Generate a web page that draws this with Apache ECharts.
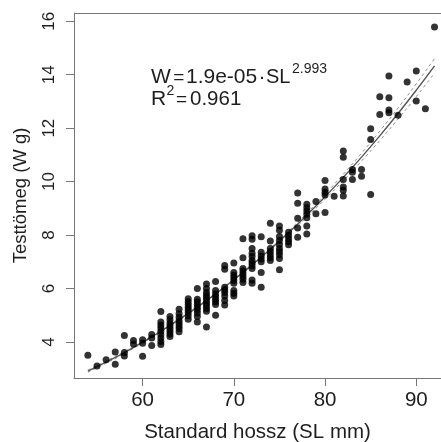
<!DOCTYPE html>
<html><head><meta charset="utf-8">
<script src="https://cdn.jsdelivr.net/npm/echarts@6/dist/echarts.min.js"></script>
<style>html,body{margin:0;padding:0;background:#fff}#c{width:441px;height:442px}</style>
</head><body><div id="c"></div>
<script>
// ---- data ----
const slColumns = [54,55,56,57,58,59,60,61,62,63,64,65,66,67,68,69,70,71,72,73,74,75,76,77,78,79,80,81,82,83,84,85,86,87,88,89,90,91,92];
const weightColumns = [
  [3.5],[3.1],[3.33],[3.62,3.16],[4.24,3.6,3.47],[4.05,3.92],[4.08,3.95,3.46],[4.28,4.15,3.87],
  [5.14,4.75,4.63,4.52,4.4,4.28,4.15,4.02,3.9],
  [4.95,4.83,4.7,4.6,4.5,4.4,4.3,4.2],
  [5.22,5.05,4.92,4.8,4.7,4.6,4.5,4.38],
  [5.62,5.5,5.4,5.3,5.2,5.1,4.98,4.85],
  [6.0,5.6,5.5,5.4,5.3,5.2,5.08,4.95,4.75],
  [6.17,6.0,5.85,5.75,5.65,5.55,5.45,5.35,5.25,5.15,4.56],
  [6.26,5.92,5.8,5.7,5.6,5.5,5.4,5.0],
  [6.86,6.72,6.05,5.95,5.85,5.72,5.55,5.38],
  [6.95,6.6,6.5,6.4,6.3,6.2,5.92,5.82,5.72],
  [7.86,7.15,6.75,6.65,6.55,6.45,6.35,6.22],
  [7.97,7.84,7.5,7.32,7.2,7.05,6.95,6.85,6.75,6.32,6.2],
  [7.94,7.36,7.22,7.1,7.0,6.6,6.05],
  [8.44,7.78,7.5,7.38,7.26,7.15,7.05],
  [8.34,8.18,7.95,7.8,7.65,7.5,7.38,7.26,7.12,6.7],
  [8.1,7.98,7.86,7.75,7.64],
  [9.57,9.19,8.63,8.26,7.92],
  [9.15,9.02,8.9,8.78,8.65,8.34,8.04],
  [9.26,8.8],
  [10.04,9.72,9.6,9.5,8.84],
  [9.45],
  [11.15,10.91,10.08,9.8,9.68,9.46],
  [10.45,10.35,10.08],
  [10.45,10.2],
  [11.98,11.58,9.52],
  [13.18,12.51],
  [13.95,13.14,12.68,12.58],
  [12.48],[13.73],[14.14,13.02],[12.73],[15.79]
];
const fitSL    = [54,56,58,60,62,64,66,68,70,72,74,76,78,80,82,84,86,88,90,92];
const fitW     = [2.909,3.244,3.603,3.988,4.399,4.838,5.305,5.800,6.326,6.883,7.471,8.091,8.746,9.434,10.158,10.917,11.714,12.548,13.421,14.334];
const upperW   = [2.951,3.284,3.639,4.019,4.425,4.862,5.327,5.820,6.346,6.908,7.506,8.146,8.821,9.529,10.278,11.062,11.889,12.753,13.661,14.604];
const lowerW   = [2.867,3.204,3.567,3.957,4.373,4.814,5.283,5.780,6.306,6.858,7.436,8.036,8.671,9.339,10.038,10.772,11.539,12.343,13.181,14.064];
const xTicks = [60,70,80,90];
const yTicks = [4,6,8,10,12,14,16];
const xLabel = 'Standard hossz (SL mm)';
const yLabel = 'Testtömeg (W g)';

// ---- build ----
const pts = [];
slColumns.forEach((sl,i)=>weightColumns[i].forEach(w=>pts.push([sl,w])));
const pair = (xs,ys)=>xs.map((x,i)=>[x,ys[i]]);
const FF = '"Liberation Sans", Arial, sans-serif';
const TXT = '#1e1e1e';
const GRAY = '#777';
const XMIN = 52.48, XMAX = 92.71, YMIN = 2.65, YMAX = 16.31;

const chart = echarts.init(document.getElementById('c'), null, {renderer:'canvas'});
function txt(s, x, y, size, opts){
  opts = opts || {};
  const al = opts.align || 'left';
  return {type:'text', x:x, y:y, rotation:opts.rotation||0, silent:true, z:100,
    style:{text:s, fill:TXT, font:size+'px '+FF, textAlign:al, textVerticalAlign:'middle', align:al, verticalAlign:'middle'}};
}
chart.setOption({
  animation:false,
  backgroundColor:'#fff',
  grid:{left:74, top:13, right:0, bottom:64, show:false, containLabel:false, outerBoundsMode:'none'},
  xAxis:{type:'value', min:XMIN, max:XMAX,
    axisLine:{show:true, onZero:false, lineStyle:{color:GRAY, width:1}}, splitLine:{show:false},
    axisTick:{show:true, length:8, lineStyle:{color:GRAY}, customValues:xTicks},
    axisLabel:{customValues:xTicks, fontSize:20.5, color:TXT, fontFamily:FF, margin:12},
    name:xLabel, nameLocation:'middle', nameGap:44,
    nameTextStyle:{fontSize:20.5, color:TXT, fontFamily:FF}},
  yAxis:{type:'value', min:YMIN, max:YMAX,
    axisLine:{show:true, onZero:false, lineStyle:{color:GRAY, width:1}}, splitLine:{show:false},
    axisTick:{show:true, length:8, lineStyle:{color:GRAY}, customValues:yTicks},
    axisLabel:{show:false}},
  series:[
    {type:'line', data:pair(fitSL,upperW), smooth:true, showSymbol:false, silent:true,
      lineStyle:{color:'#8f8f8f', width:1, type:[3,3]}},
    {type:'line', data:pair(fitSL,lowerW), smooth:true, showSymbol:false, silent:true,
      lineStyle:{color:'#8f8f8f', width:1, type:[3,3]}},
    {type:'line', data:pair(fitSL,fitW), smooth:true, showSymbol:false, silent:true,
      lineStyle:{color:'#555', width:1.4}},
    {type:'scatter', data:pts, symbol:'circle', symbolSize:7, silent:true,
      itemStyle:{color:'#000'}, z:5}
  ]
});
// axis-derived positions for rotated y labels, title and top frame line
const g = [];
const topLeft = chart.convertToPixel({gridIndex:0}, [XMIN, YMAX]);
const botLeft = chart.convertToPixel({gridIndex:0}, [XMIN, YMIN]);
g.push({type:'line', silent:true, z:50, shape:{x1:topLeft[0], y1:topLeft[1]+0.5, x2:441, y2:topLeft[1]+0.5},
  style:{stroke:GRAY, lineWidth:1}});
yTicks.forEach(v=>{
  const p = chart.convertToPixel({gridIndex:0}, [XMIN, v]);
  g.push(txt(String(v), p[0]-25, p[1], 17, {align:'center', rotation:Math.PI/2}));
});
g.push(txt(yLabel, topLeft[0]-53, (topLeft[1]+botLeft[1])/2, 18.5, {align:'center', rotation:Math.PI/2}));
g.push(
  txt('W',151,77.5,21), txt('=',173.3,77.5,19), txt('1.9e-05',186,77.5,21),
  txt('·',258.5,77.5,21), txt('SL',266,77.5,20), txt('2.993',292,69.5,14),
  txt('R',151,99.5,21), txt('2',166.5,91,14), txt('=',176,99.5,19), txt('0.961',190,99.5,20.5)
);
chart.setOption({graphic:g});
</script>
</body></html>
